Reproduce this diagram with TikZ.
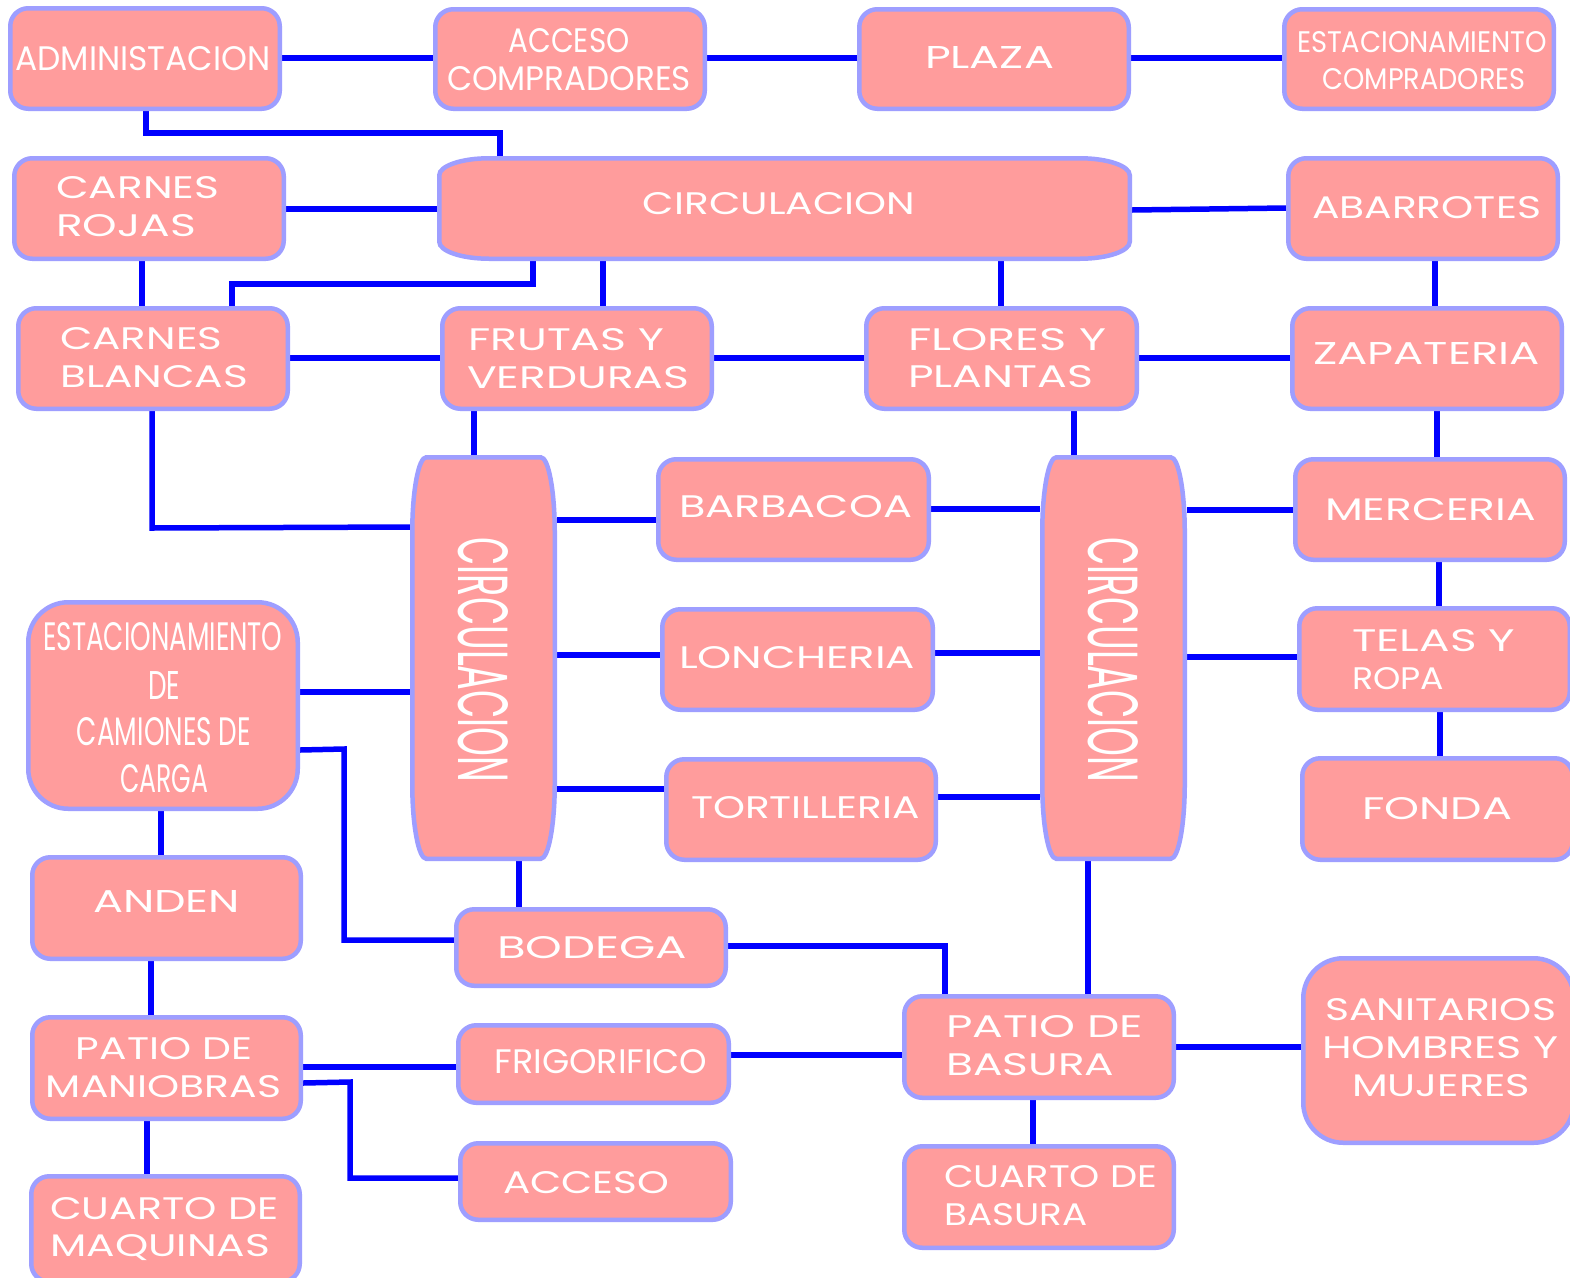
\documentclass[tikz,border=0pt]{standalone}
\usepackage{fontspec}
\usepackage{graphicx}
\usetikzlibrary{backgrounds}
\newfontfamily\condfont{Poppins}
\definecolor{pinkc}{RGB}{255,156,156}
\definecolor{bordc}{RGB}{158,158,255}
\definecolor{linec}{RGB}{0,0,255}
\tikzset{
  box/.style={draw=bordc, fill=pinkc, line width=4.5pt, rounded corners=18pt, inner sep=0pt},
  cshape/.style={draw=bordc, fill=pinkc, line width=4.5pt},
  conn/.style={draw=linec, line width=5.5pt},
  txt/.style={text=white, inner sep=0pt, font=\condfont\fontsize{30}{36}\selectfont},
}
% box by outer edges
\newcommand\bx[6][]{\node[box,minimum width={#5-#3-4.5},minimum height={#6-#4-4.5},#1] (#2) at ({(#3+#5)/2},{(#4+#6)/2}) {};}
% box with elliptical corners
\newcommand\ellbox[7]{%
  \node[inner sep=0pt,outer sep=0pt,minimum width={#4-#2},minimum height={#5-#3}] (#1) at ({(#2+#4)/2},{(#3+#5)/2}) {};
  \pgfmathsetmacro\ea{#2+2.25}\pgfmathsetmacro\eb{#3+2.25}\pgfmathsetmacro\ec{#4-2.25}\pgfmathsetmacro\ed{#5-2.25}
  \path[cshape] ({\ea+#6},\eb) -- ({\ec-#6},\eb) arc[start angle=90,end angle=0,x radius=#6pt,y radius=#7pt]
    -- (\ec,{\ed-#7}) arc[start angle=0,end angle=-90,x radius=#6pt,y radius=#7pt]
    -- ({\ea+#6},\ed) arc[start angle=-90,end angle=-180,x radius=#6pt,y radius=#7pt]
    -- (\ea,{\eb+#7}) arc[start angle=180,end angle=90,x radius=#6pt,y radius=#7pt] -- cycle;}
% wide text line: anchor, name, x, baseline y, width, text
\newcommand\tx[6][base]{\node[txt,anchor=#1] (#2) at (#3,#4) {\resizebox{#5pt}{22pt}{#6}};}
% condensed line: name, cx, cy, width, height, text
\newcommand\tc[6]{\node[txt] (#1) at (#2,#3) {\resizebox{#4pt}{#5pt}{#6}};}
\begin{document}
\begin{tikzpicture}[x=1pt,y=-1pt]
\useasboundingbox (0,0) rectangle (1570,1277);
% boxes
\bx{admin}{8}{6}{282}{111}
\bx{acc}{433}{7}{707}{111}
\bx{plaza}{857}{7}{1131}{111}
\bx{estc}{1282}{7}{1556}{111}
\bx{crojas}{12}{156}{286}{261}
\ellbox{circ}{437}{156}{1132}{261}{50}{17}
\bx{abarr}{1286}{156}{1560}{261}
\bx{cblancas}{16}{306}{290}{411}
\bx{frutas}{440}{306}{714}{411}
\bx{flores}{864}{306}{1139}{411}
\bx{zapat}{1290}{306}{1564}{411}
\ellbox{cl}{410}{455}{557}{861}{14}{75}
\ellbox{cr}{1040}{455}{1187}{861}{14}{75}
\bx{barb}{656}{457}{931}{562}
\bx{lonch}{660}{607}{935}{712}
\bx{tort}{664}{757}{938}{862}
\bx{merc}{1293}{457}{1567}{562}
\bx{telas}{1297}{606}{1572}{712}
\bx{fonda}{1300}{756}{1575}{862}
\bx[rounded corners=40pt]{camion}{26}{600}{300}{811}
\bx{anden}{30}{855}{303}{961}
\bx{bodega}{454}{907}{728}{988}
\bx{maniob}{30}{1015}{303}{1121}
\bx{frigo}{456}{1023}{731}{1105}
\bx{acceso}{458}{1141}{733}{1222}
\bx{pbasura}{902}{994}{1176}{1100}
\bx{cbasura}{902}{1144}{1176}{1250}
\bx{cmaq}{29}{1174}{302}{1284}
\bx[rounded corners=40pt]{sanit}{1301}{956}{1576}{1145}
% connectors
\begin{scope}[on background layer]
\fill[white] (0,0) rectangle (1570,1277);
\draw[conn] (admin.east |- 0,58) -- (acc.west |- 0,58);
\draw[conn] (acc.east |- 0,58) -- (plaza.west |- 0,58);
\draw[conn] (plaza.east |- 0,58) -- (estc.west |- 0,58);
\draw[conn] (admin.south -| 146,0) -- (146,133) -- (500,133) -- (circ.north -| 500,0);
\draw[conn] (crojas.east |- 0,209) -- (circ.west |- 0,209);
\draw[conn] (circ.east |- 0,210) -- (abarr.west |- 0,208);
\draw[conn] (crojas.south -| 142,0) -- (cblancas.north -| 142,0);
\draw[conn] (circ.south -| 533,0) -- (533,284) -- (232,284) -- (cblancas.north -| 232,0);
\draw[conn] (circ.south -| 603,0) -- (frutas.north -| 603,0);
\draw[conn] (circ.south -| 1001,0) -- (flores.north -| 1001,0);
\draw[conn] (abarr.south -| 1435,0) -- (zapat.north -| 1435,0);
\draw[conn] (cblancas.east |- 0,358) -- (frutas.west |- 0,358);
\draw[conn] (frutas.east |- 0,358) -- (flores.west |- 0,358);
\draw[conn] (flores.east |- 0,358) -- (zapat.west |- 0,358);
\draw[conn] (frutas.south -| 474,0) -- (cl.north -| 474,0);
\draw[conn] (flores.south -| 1074,0) -- (cr.north -| 1074,0);
\draw[conn] (zapat.south -| 1437,0) -- (merc.north -| 1437,0);
\draw[conn] (cblancas.south -| 152,0) -- (152,528) -- (cl.west |- 0,527);
\draw[conn] (cl.east |- 0,520) -- (barb.west |- 0,520);
\draw[conn] (barb.east |- 0,509) -- (cr.west |- 0,509);
\draw[conn] (cl.east |- 0,655) -- (lonch.west |- 0,655);
\draw[conn] (lonch.east |- 0,653) -- (cr.west |- 0,653);
\draw[conn] (cl.east |- 0,789) -- (tort.west |- 0,789);
\draw[conn] (tort.east |- 0,797) -- (cr.west |- 0,797);
\draw[conn] (cr.east |- 0,510) -- (merc.west |- 0,510);
\draw[conn] (cr.east |- 0,657) -- (telas.west |- 0,657);
\draw[conn] (merc.south -| 1439,0) -- (telas.north -| 1439,0);
\draw[conn] (telas.south -| 1440,0) -- (fonda.north -| 1440,0);
\draw[conn] (camion.east |- 0,692) -- (cl.west |- 0,692);
\draw[conn] (camion.east |- 0,750) -- (344,749) -- (344,940) -- (bodega.west |- 0,940);
\draw[conn] (cl.south -| 519,0) -- (bodega.north -| 519,0);
\draw[conn] (camion.south -| 161,0) -- (anden.north -| 161,0);
\draw[conn] (anden.south -| 151,0) -- (maniob.north -| 151,0);
\draw[conn] (maniob.east |- 0,1067) -- (frigo.west |- 0,1067);
\draw[conn] (maniob.east |- 0,1083) -- (350,1082) -- (350,1178) -- (acceso.west |- 0,1178);
\draw[conn] (maniob.south -| 147,0) -- (cmaq.north -| 147,0);
\draw[conn] (bodega.east |- 0,946) -- (945,946) -- (pbasura.north -| 945,0);
\draw[conn] (cr.south -| 1088,0) -- (pbasura.north -| 1088,0);
\draw[conn] (frigo.east |- 0,1055) -- (pbasura.west |- 0,1055);
\draw[conn] (pbasura.east |- 0,1047) -- (sanit.west |- 0,1047);
\draw[conn] (pbasura.south -| 1033,0) -- (cbasura.north -| 1033,0);
\end{scope}
% texts
\tc{t1}{143}{59}{255}{24}{ADMINISTACION}
\tc{t2}{569}{41}{121}{24}{ACCESO}
\tc{t3}{569}{79}{244}{24}{COMPRADORES}
\tx{t4}{989.5}{68}{129}{PLAZA}
\tc{t5}{1422}{42}{250}{21}{ESTACIONAMIENTO}
\tc{t6}{1424}{79}{203}{21}{COMPRADORES}
\tx[base west]{t7}{56}{198}{163}{CARNES}
\tx[base west]{t8}{56}{236}{140}{ROJAS}
\tx{t9}{779}{214}{272}{CIRCULACION}
\tx{t10}{1426.5}{218}{229}{ABARROTES}
\tx[base west]{t11}{60}{349}{162}{CARNES}
\tx[base west]{t12}{60}{387}{188}{BLANCAS}
\tx[base west]{t13}{468}{350}{196}{FRUTAS Y}
\tx[base west]{t14}{467}{388}{222}{VERDURAS}
\tx[base west]{t15}{908}{350}{198}{FLORES Y}
\tx[base west]{t16}{908}{387}{185}{PLANTAS}
\tx{t17}{1426.5}{364}{227}{ZAPATERIA}
\node[txt,rotate=-90] (t18) at (483,660) {\resizebox{245pt}{50pt}{CIRCULACION}};
\node[txt,rotate=-90] (t19) at (1113,660) {\resizebox{245pt}{50pt}{CIRCULACION}};
\tx{t20}{795.5}{517}{233}{BARBACOA}
\tx{t21}{797}{668}{236}{LONCHERIA}
\tx{t22}{805.5}{818}{229}{TORTILLERIA}
\tx{t23}{1430.5}{520}{211}{MERCERIA}
\tx[base west]{t24}{1352}{651}{163}{TELAS Y}
\tx[base west]{t25}{1352}{689}{92}{ROPA}
\tx{t26}{1437}{819}{150}{FONDA}
\tc{t27}{163}{637}{239}{28}{ESTACIONAMIENTO}
\tc{t28}{164}{685}{32}{28}{DE}
\tc{t29}{164}{732}{174}{28}{CAMIONES DE}
\tc{t30}{164}{779}{88}{28}{CARGA}
\tx{t31}{166.5}{912}{147}{ANDEN}
\tx{t32}{592}{958}{190}{BODEGA}
\tx{t33}{164}{1059}{176}{PATIO DE}
\tx{t34}{163.5}{1097}{235}{MANIOBRAS}
\tc{t35}{601}{1062}{213}{24}{FRIGORIFICO}
\tx{t36}{586}{1193}{166}{ACCESO}
\tx[base west]{t37}{946}{1037}{197}{PATIO DE}
\tx[base west]{t38}{946}{1075}{168}{BASURA}
\tx[base west]{t39}{944}{1187}{213}{CUARTO DE}
\tx[base west]{t40}{944}{1225}{143}{BASURA}
\tx[base west]{t41}{50}{1219}{228}{CUARTO DE}
\tx[base west]{t42}{50}{1256}{220}{MAQUINAS}
\tx{t43}{1440.5}{1020}{231}{SANITARIOS}
\tx{t44}{1440}{1058}{236}{HOMBRES Y}
\tx{t45}{1441}{1096}{178}{MUJERES}
\end{tikzpicture}
\end{document}
